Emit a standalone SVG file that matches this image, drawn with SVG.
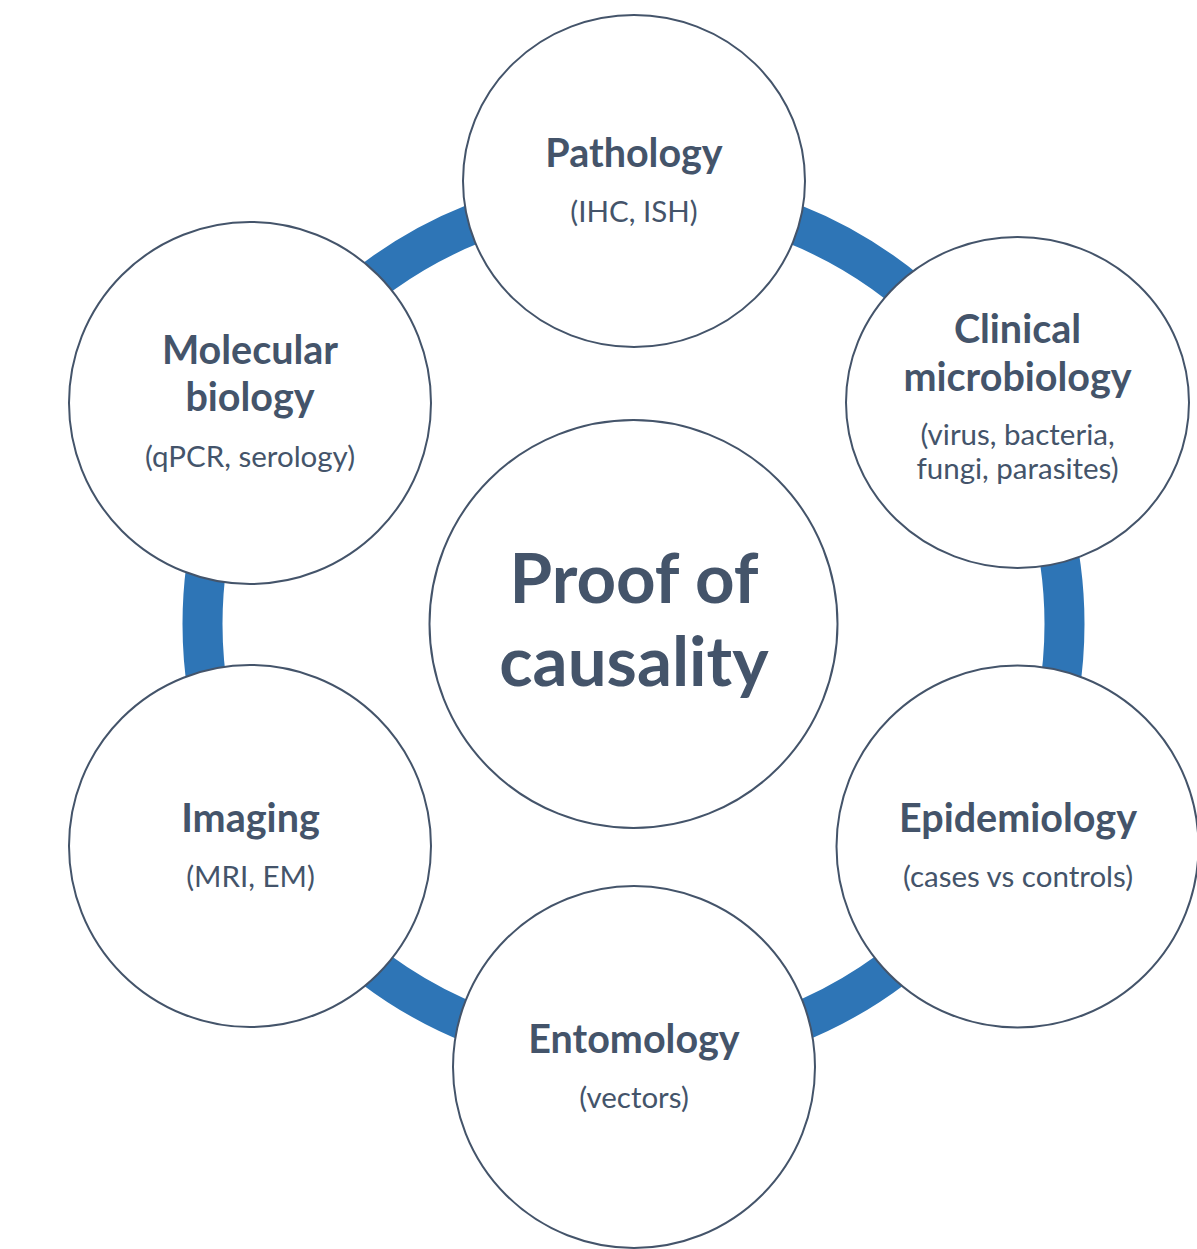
<svg xmlns="http://www.w3.org/2000/svg" width="1197" height="1249" viewBox="0 0 1197 1249">
<style>
.node{fill:#ffffff;stroke:#44546A;stroke-width:2}
.t{font-family:Lato,"Liberation Sans",sans-serif;font-weight:bold;font-size:39.5px;fill:#44546A;text-anchor:middle}
.s{font-family:Lato,"Liberation Sans",sans-serif;font-size:29.5px;fill:#44546A;text-anchor:middle}
.c{font-family:Lato,"Liberation Sans",sans-serif;font-weight:bold;font-size:69px;fill:#44546A;text-anchor:middle}
</style>
<rect width="1197" height="1249" fill="#ffffff"/>
<g id="connectors">
<circle cx="633.5" cy="624" r="431" fill="none" stroke="#2E75B6" stroke-width="40"/>
</g>
<g id="center">
<circle class="node" cx="633.5" cy="624" r="204"/>
<text class="c" x="634" y="603">Proof of</text>
<text class="c" x="634" y="686">causality</text>
</g>
<g id="pathology">
<ellipse class="node" cx="634" cy="181" rx="171" ry="166"/>
<text class="t" x="634" y="167">Pathology</text>
<text class="s" x="634" y="222">(IHC, ISH)</text>
</g>
<g id="clinical-microbiology">
<ellipse class="node" cx="1017.5" cy="402.5" rx="171.5" ry="165.5"/>
<text class="t" x="1017.5" y="343">Clinical</text>
<text class="t" x="1017.5" y="391">microbiology</text>
<text class="s" x="1017.5" y="445">(virus, bacteria,</text>
<text class="s" x="1017.5" y="479">fungi, parasites)</text>
</g>
<g id="epidemiology">
<circle class="node" cx="1017.5" cy="846.5" r="181"/>
<text class="t" x="1018" y="832">Epidemiology</text>
<text class="s" x="1018" y="887">(cases vs controls)</text>
</g>
<g id="entomology">
<circle class="node" cx="634" cy="1067" r="181"/>
<text class="t" x="634" y="1053">Entomology</text>
<text class="s" x="634" y="1108">(vectors)</text>
</g>
<g id="imaging">
<circle class="node" cx="250" cy="846" r="181"/>
<text class="t" x="250.5" y="832">Imaging</text>
<text class="s" x="250.5" y="887">(MRI, EM)</text>
</g>
<g id="molecular-biology">
<circle class="node" cx="250" cy="403" r="181"/>
<text class="t" x="250" y="364">Molecular</text>
<text class="t" x="250" y="411">biology</text>
<text class="s" x="250" y="467">(qPCR, serology)</text>
</g>
</svg>
